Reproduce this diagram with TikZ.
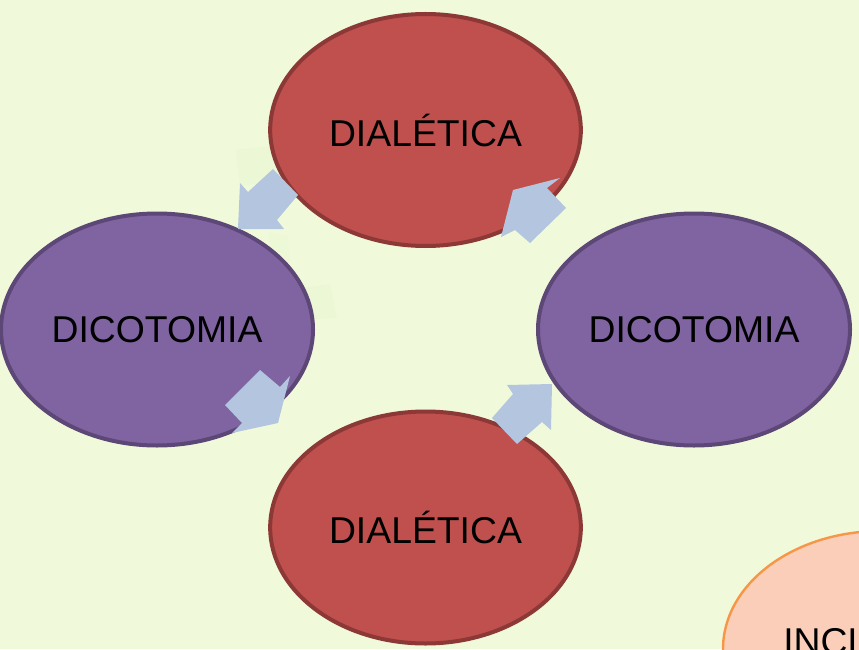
\documentclass[tikz,border=0pt]{standalone}
\usepackage{fontspec}
\setmainfont{Liberation Sans}
\usetikzlibrary{shapes.geometric}
\definecolor{pagebg}{HTML}{F0FADB}
\definecolor{ghost}{HTML}{E8F4CC}
\definecolor{redfill}{HTML}{C0504D}
\definecolor{redline}{HTML}{8C3836}
\definecolor{purplefill}{HTML}{8064A2}
\definecolor{purpleline}{HTML}{5C4776}
\definecolor{peachfill}{HTML}{FBCEB9}
\definecolor{peachline}{HTML}{F79646}
\definecolor{arrowblue}{HTML}{B3C5DF}
\tikzset{
  labelfont/.style={font=\fontsize{28}{31}\selectfont},
  bubble/.style={ellipse, line width=3pt, inner sep=0pt,
    minimum width=234pt, minimum height=174pt, labelfont, text=black},
  redbubble/.style={bubble, fill=redfill, draw=redline},
  purplebubble/.style={bubble, fill=purplefill, draw=purpleline},
  peachbubble/.style={bubble, fill=peachfill, draw=peachline, line width=1.8pt},
  blockarrow/.style={fill=arrowblue, draw=none},
}
\begin{document}
\begin{tikzpicture}[x=0.75pt,y=-0.75pt]
  % page
  \fill[pagebg] (0,0) rectangle (859,649);
  \useasboundingbox (0,0) rectangle (859,649);
  \clip (0,0) rectangle (859,649);

  % faint patches in the background
  \fill[ghost, opacity=0.4] (236,150) -- (270,146) -- (282,180) -- (240,186) -- cycle;
  \fill[ghost, opacity=0.3] (268,232) -- (288,236) -- (290,262) -- (272,262) -- cycle;
  \fill[ghost, opacity=0.4] (300,288) -- (330,284) -- (337,318) -- (304,320) -- cycle;

  % bubbles
  \node[redbubble, minimum width=233pt, minimum height=174pt] (dialA) at (425.5,130) {DIALÉTICA};
  \node[purplebubble] (dicL) at (157,329.5) {DICOTOMIA};
  \node[purplebubble] (dicR) at (694,329.5) {DICOTOMIA};
  \node[redbubble, minimum width=233pt, minimum height=174pt] (dialB) at (425.5,527.5) {DIALÉTICA};
  \node[peachbubble, minimum width=237pt, minimum height=177pt] (incl) at (881,649) {};
  \node[anchor=base west, labelfont, inner sep=0pt] (incltext) at (783,654) {INCL};

  % block arrows of the cycle
  \fill[blockarrow] (273,169) -- (298,195) -- (277,220) -- (284,229)
    -- (238,229) -- (240,183) -- (248,192) -- cycle;
  \fill[blockarrow] (260,370) -- (280,387) -- (290,376) -- (278,423)
    -- (232,433) -- (242,423) -- (225,405) -- cycle;
  \fill[blockarrow] (507,385) -- (552,384) -- (551,430) -- (542,422)
    -- (517,444) -- (492,418) -- (513,394) -- cycle;
  \fill[blockarrow] (560,178) -- (547,188) -- (566,208) -- (530,243)
    -- (515,230) -- (501,237) -- (513,190) -- cycle;
\end{tikzpicture}
\end{document}
